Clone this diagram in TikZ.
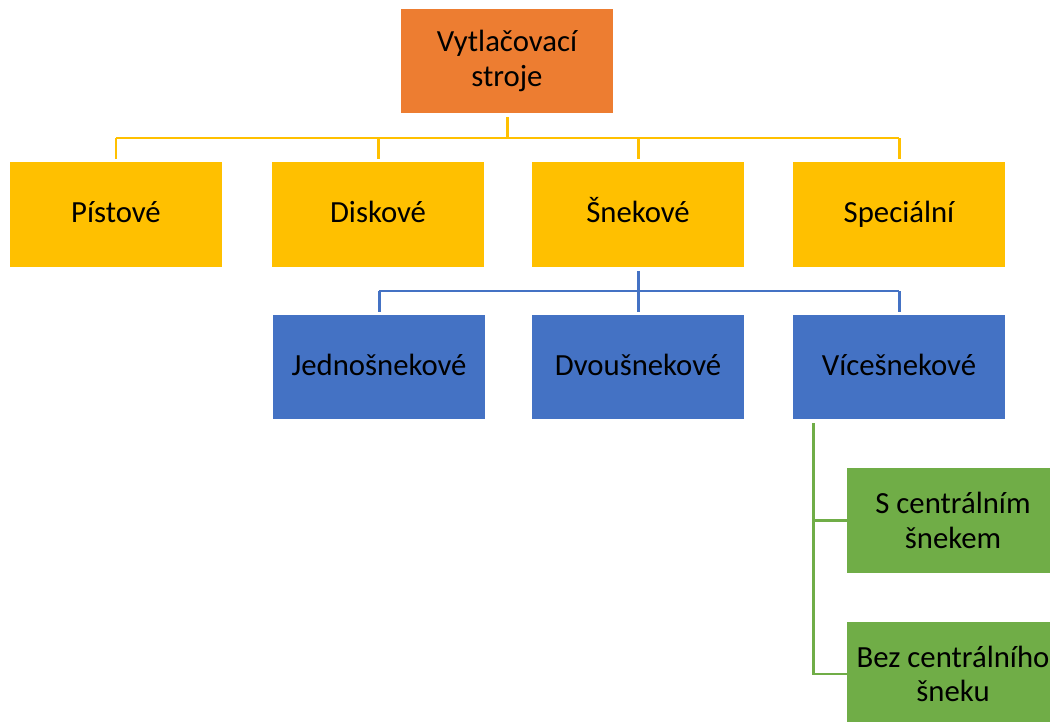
\documentclass[tikz,border=0pt]{standalone}
\usepackage{fontspec}
\setmainfont{Carlito}
\usepackage{xcolor}
\usepackage{tikz}
\usetikzlibrary{positioning}

\definecolor{oranzova}{HTML}{ED7D31}
\definecolor{zluta}{HTML}{FFC000}
\definecolor{modra}{HTML}{4472C4}
\definecolor{zelena}{HTML}{70AD47}

\begin{document}
\begin{tikzpicture}[x=0.02cm, y=-0.02cm,
		box/.style={minimum width=4.24cm, minimum height=2.1cm, inner sep=0pt, align=center,
			font=\fontsize{17.5}{19.5}\selectfont},
		radek/.style={text height=12.5pt, text depth=3pt},
		vetev/.style={line width=1.7pt}]
			
			% Bounding box like the reference
			\useasboundingbox (0,0) rectangle (1050,722);
			
			% Top level
			\node[box, fill=oranzova] (vytl) at (507,61) {Vytla\v{c}ovac\'{\i}\\stroje};
			
			% Second level
			\node[box, radek, fill=zluta] (pist) at (116,214.5) {P\'{\i}stov\'e};
			\node[box, radek, fill=zluta] (disk) at (378,214.5) {Diskov\'e};
			\node[box, radek, fill=zluta] (snek) at (638,214.5) {\v{S}nekov\'e};
			\node[box, radek, fill=zluta] (spec) at (899,214.5) {Speci\'aln\'{\i}};
			
			% Third level
			\node[box, radek, fill=modra] (jedno) at (379,367) {Jedno\v{s}nekov\'e};
			\node[box, radek, fill=modra] (dvou) at (638,367) {Dvou\v{s}nekov\'e};
			\node[box, radek, fill=modra] (vice) at (899,367) {V\'{\i}ce\v{s}nekov\'e};
			
			% Fourth level (cut off at the right edge)
			\node[box, fill=zelena] (scen) at (953,520.5) {S centr\'aln\'{\i}m\\\v{s}nekem};
			\node[box, fill=zelena] (bezcen) at (953,674) {Bez centr\'aln\'{\i}ho\\\v{s}neku};
			
			% Helper points for the connectors
			\coordinate (ybar) at (0,138);
			\coordinate (bbar) at (0,291);
			\coordinate (gx) at (813,0);
			
			% Yellow connectors
			\draw[vetev, zluta, shorten <=2pt] (vytl.south) -- (vytl.south |- ybar);
			\draw[vetev, zluta] (pist.north |- ybar) -- (spec.north |- ybar);
			\foreach \n in {pist,disk,snek,spec}
			\draw[vetev, zluta, shorten <=1.5pt] (\n.north) -- (\n.north |- ybar);
			
			% Blue connectors
			\draw[vetev, modra, shorten <=2pt] (snek.south) -- (snek.south |- bbar);
			\draw[vetev, modra] (jedno.north |- bbar) -- (vice.north |- bbar);
			\foreach \n in {jedno,dvou,vice}
			\draw[vetev, modra, shorten <=1.5pt] (\n.north) -- (\n.north |- bbar);
			
			% Green connectors
			\draw[vetev, zelena, shorten <=2pt] (vice.south -| gx) -- (gx |- bezcen.west) -- (bezcen.west);
			\draw[vetev, zelena] (gx |- scen.west) -- (scen.west);
			
		\end{tikzpicture}
\end{document}
